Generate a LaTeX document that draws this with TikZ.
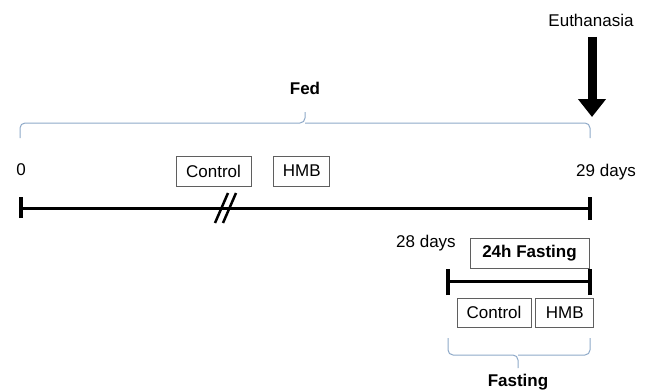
\documentclass[tikz,border=0pt]{standalone}
\usepackage{fontspec}
\setmainfont{Liberation Sans}
\usetikzlibrary{arrows.meta, positioning}
\definecolor{bracegrey}{RGB}{142,169,200}
\definecolor{boxgrey}{RGB}{95,95,95}

\begin{document}
\begin{tikzpicture}[x=1pt, y=-1pt, font=\fontsize{17}{20}\selectfont,
  group/.style={rectangle, draw=boxgrey, line width=0.8pt, inner sep=0pt, minimum height=30pt},
  line/.style={draw=black, line width=3pt},
  tick/.style={draw=black, line width=3.5pt},
  bracket/.style={draw=bracegrey, line width=1pt, rounded corners=5pt}]
  \useasboundingbox (0,0) rectangle (646,391);

  % labels
  \node (euth) at (591,20) {Euthanasia};
  \node (fed) at (305,88) {\textbf{Fed}};
  \node (zero) at (21,170) {0};
  \node (day29) at (606,172) {29 days};
  \node (day28) at (426,243) {28 days};
  \node (fasting) at (518,382) {\textbf{Fasting}};

  % groups
  \node [group, minimum width=75pt] (ctrlfed) at (213.5,171) {Control};
  \node [group, minimum width=56pt, right=22pt of ctrlfed] (hmbfed) {HMB};
  \node [group, minimum width=119pt] (fast24) at (529.5,253) {\textbf{24h Fasting}};
  \node [group, minimum width=74pt, minimum height=29pt] (ctrlfast) at (494,312.5) {Control};
  \node [group, minimum width=58pt, minimum height=29pt, right=4pt of ctrlfast] (hmbfast) {HMB};

  % timelines
  \coordinate (t0) at (21,208);
  \coordinate (t29) at (590,208);
  \coordinate (s28) at (448,281);
  \coordinate (s29) at (590,281);
  \draw [line] (t0) -- (t29);
  \draw [tick] ([yshift=-10pt]t0) -- ([yshift=11pt]t0);
  \draw [tick] ([yshift=-12pt]t29) -- ([yshift=11pt]t29);
  \draw [line, line width=2.5pt] (215,223) -- (228,193) (223,223) -- (236,193);
  \draw [line] (s28) -- (s29);
  \draw [tick] ([yshift=-14pt]s28) -- ([yshift=12pt]s28);
  \draw [tick] ([yshift=-14pt]s29) -- ([yshift=12pt]s29);

  % braces
  \draw [bracket] (20,138) |- (305,123) -- (305,112);
  \draw [bracket] (590,138) |- (305,123);
  \draw [bracket] (448,338) |- (518,355) -- (518,368);
  \draw [bracket] (590,338) |- (518,355);

  % euthanasia arrow
  \coordinate (kill) at (592,117);
  \draw [line width=9pt, -{Triangle[width=27pt, length=18pt]}] (euth.south) ++(1,7) -- (kill);
\end{tikzpicture}
\end{document}
